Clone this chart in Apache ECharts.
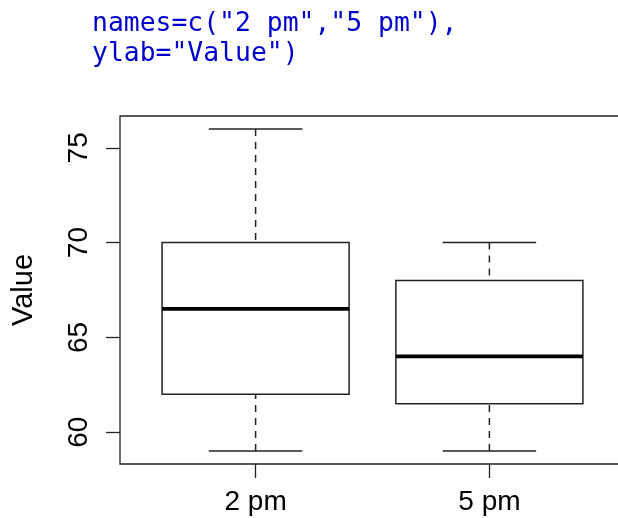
<!DOCTYPE html>
<html>
<head>
<meta charset="utf-8">
<script src="https://cdn.jsdelivr.net/npm/echarts@6/dist/echarts.min.js"></script>
<style>html,body{margin:0;padding:0;background:#fff;overflow:hidden;}#c{width:618px;height:518px;}</style>
</head>
<body>
<div id="c"></div>
<script>
var categories = ["2 pm", "5 pm"];
// [min, Q1, median, Q3, max]
var boxValues = [
  [59, 62, 66.5, 70, 76],
  [59, 61.5, 64, 68, 70]
];
var yTicks = [60, 65, 70, 75];
var codeLines = ['names=c("2 pm","5 pm"),', 'ylab="Value")'];

var chart = echarts.init(document.getElementById('c'), null, {renderer: 'canvas'});
var lineColor = '#222';
var data = boxValues.map(function (v, i) { return [i + 1].concat(v); });

chart.setOption({
  animation: false,
  backgroundColor: '#fff',
  graphic: codeLines.map(function (t, i) {
    return {
      type: 'text', left: 92, top: 11 + i * 30,
      style: { text: t, font: '26.4px "DejaVu Sans Mono"', fill: '#0000cc' }
    };
  }),
  grid: { left: 120, top: 116, width: 505, height: 348, containLabel: false, outerBoundsMode: 'none', show: true, borderColor: lineColor, borderWidth: 1.3, backgroundColor: 'transparent' },
  xAxis: {
    type: 'value', min: 0.42, max: 2.58,
    splitLine: { show: false },
    axisLine: { show: false },
    axisTick: { show: true, length: 14, customValues: [1, 2], lineStyle: { color: lineColor, width: 1.3 } },
    axisLabel: {
      customValues: [1, 2], margin: 24,
      formatter: function (v) { return categories[Math.round(v) - 1] || ''; },
      fontFamily: 'Liberation Sans, Arial, sans-serif', fontSize: 28, color: '#000'
    }
  },
  yAxis: {
    type: 'value', min: 58.32, max: 76.68,
    name: 'Value', nameLocation: 'middle', nameRotate: 90, nameGap: 82,
    nameTextStyle: { fontFamily: 'Liberation Sans, Arial, sans-serif', fontSize: 29, color: '#000' },
    splitLine: { show: false },
    axisLine: { show: false },
    axisTick: { show: true, length: 14, customValues: yTicks, lineStyle: { color: lineColor, width: 1.3 } },
    axisLabel: {
      customValues: yTicks, rotate: 90, margin: 27,
      fontFamily: 'Liberation Sans, Arial, sans-serif', fontSize: 28, color: '#000'
    }
  },
  series: [{
    type: 'custom',
    data: data,
    encode: { x: 0, y: [1, 2, 3, 4, 5] },
    renderItem: function (params, api) {
      var x = api.value(0);
      var mn = api.value(1), q1 = api.value(2), md = api.value(3), q3 = api.value(4), mx = api.value(5);
      var bl = api.coord([x - 0.4, q1]), tr = api.coord([x + 0.4, q3]);
      var cMin = api.coord([x, mn]), cMax = api.coord([x, mx]);
      var mL = api.coord([x - 0.4, md]), mR = api.coord([x + 0.4, md]);
      var sL = api.coord([x - 0.2, 0])[0], sR = api.coord([x + 0.2, 0])[0];
      var thin = { stroke: lineColor, lineWidth: 1.5, fill: null };
      return {
        type: 'group',
        children: [
          { type: 'line', shape: { x1: cMax[0], y1: cMax[1], x2: cMax[0], y2: tr[1] }, style: Object.assign({}, thin, { lineDash: [7, 6] }) },
          { type: 'line', shape: { x1: cMin[0], y1: cMin[1], x2: cMin[0], y2: bl[1] }, style: Object.assign({}, thin, { lineDash: [7, 6] }) },
          { type: 'line', shape: { x1: sL, y1: cMax[1], x2: sR, y2: cMax[1] }, style: thin },
          { type: 'line', shape: { x1: sL, y1: cMin[1], x2: sR, y2: cMin[1] }, style: thin },
          { type: 'rect', shape: { x: bl[0], y: tr[1], width: tr[0] - bl[0], height: bl[1] - tr[1] }, style: { stroke: lineColor, lineWidth: 1.5, fill: '#fff' } },
          { type: 'line', shape: { x1: mL[0], y1: mL[1], x2: mR[0], y2: mR[1] }, style: { stroke: '#000', lineWidth: 3.8 } }
        ]
      };
    }
  }]
});
</script>
</body>
</html>
